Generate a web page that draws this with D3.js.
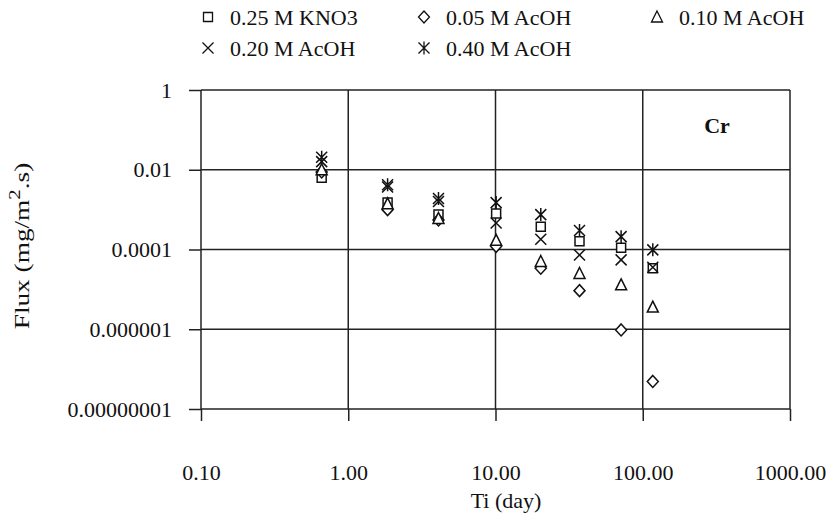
<!DOCTYPE html>
<html>
<head>
<meta charset="utf-8">
<script src="https://cdn.jsdelivr.net/npm/d3@7"></script>
<style>
  html, body { margin: 0; padding: 0; background: #fff; }
  svg { display: block; }
  text { font-family: "Liberation Serif", "Times New Roman", serif; fill: #111; }
</style>
</head>
<body>
<svg id="chart" width="838" height="524"></svg>
<script>
// Leaching time (days) for each sampling step
const days = [0.66, 1.85, 4.1, 10.1, 20.3, 37.2, 71.3, 117];

// Cr flux (mg/m2.s) per leachant
const kno3_025 = [0.0063, 0.0015, 0.00075, 0.0008, 0.00037, 0.00016, 0.00011, 0.000034];
const acoh_005 = [0.0088, 0.001, 0.00055, 0.00012, 0.000034, 0.0000093, 0.00000096, 0.000000049];
const acoh_010 = [0.01, 0.0014, 0.0006, 0.00017, 0.00005, 0.000025, 0.000013, 0.0000036];
const acoh_020 = [0.016, 0.0037, 0.0016, 0.00046, 0.00018, 0.000073, 0.000055, 0.000036];
const acoh_040 = [0.0205, 0.0042, 0.0019, 0.0015, 0.00075, 0.0003, 0.00021, 0.000098];

const seriesNames = ["0.25 M KNO3", "0.05 M AcOH", "0.10 M AcOH", "0.20 M AcOH", "0.40 M AcOH"];
const seriesMarkers = ["square", "diamond", "triangle", "cross", "star"];

const xTicks = [0.1, 1, 10, 100, 1000];
const xTickLabels = ["0.10", "1.00", "10.00", "100.00", "1000.00"];
const yTicks = [1, 0.01, 0.0001, 0.000001, 0.00000001];
const yTickLabels = ["1", "0.01", "0.0001", "0.000001", "0.00000001"];

const series = [kno3_025, acoh_005, acoh_010, acoh_020, acoh_040].map((vals, i) => ({
  name: seriesNames[i],
  marker: seriesMarkers[i],
  points: vals.map((v, j) => ({ x: days[j], y: v }))
}));

const svg = d3.select("#chart");
const plot = { left: 201, right: 790, top: 90, bottom: 409 };
const fontSize = 22;

const x = d3.scaleLog().domain([0.1, 1000]).range([plot.left, plot.right]);
const y = d3.scaleLog().domain([1e-8, 1]).range([plot.bottom, plot.top]);

// Marker outlines, centred on the origin
function markerPath(type) {
  const p = d3.path();
  if (type === "square") {
    p.rect(-4.5, -4.5, 9, 9);
  } else if (type === "diamond") {
    p.moveTo(0, -6); p.lineTo(5.5, 0); p.lineTo(0, 6); p.lineTo(-5.5, 0); p.closePath();
  } else if (type === "triangle") {
    p.moveTo(0, -6); p.lineTo(5.5, 5); p.lineTo(-5.5, 5); p.closePath();
  } else if (type === "cross") {
    p.moveTo(-5.5, -5.5); p.lineTo(5.5, 5.5); p.moveTo(-5.5, 5.5); p.lineTo(5.5, -5.5);
  } else if (type === "star") {
    p.moveTo(-5.5, -5.5); p.lineTo(5.5, 5.5); p.moveTo(-5.5, 5.5); p.lineTo(5.5, -5.5);
    p.moveTo(0, -6.5); p.lineTo(0, 6.5);
  }
  return p.toString();
}

// Grid lines (also form the plot frame)
const grid = svg.append("g").attr("stroke", "#222").attr("stroke-width", 1.5).attr("fill", "none");
grid.selectAll("line.h").data(yTicks).join("line")
  .attr("x1", plot.left).attr("x2", plot.right)
  .attr("y1", d => y(d)).attr("y2", d => y(d));
grid.selectAll("line.v").data(xTicks).join("line")
  .attr("y1", plot.top).attr("y2", plot.bottom)
  .attr("x1", d => x(d)).attr("x2", d => x(d));

// Y axis: ticks outward to the left, labels right aligned
const yAxis = d3.axisLeft(y).tickValues(yTicks)
  .tickFormat((d, i) => yTickLabels[i]).tickSize(12).tickPadding(17);
const gy = svg.append("g").attr("transform", `translate(${plot.left},0)`).call(yAxis);
gy.select(".domain").remove();
gy.selectAll(".tick line").attr("stroke", "#222").attr("stroke-width", 1.5);
gy.selectAll(".tick text").attr("font-size", fontSize).attr("font-family", "Liberation Serif").attr("fill", "#111");

// X axis: ticks hang below the bottom line, labels set well below
const xAxis = d3.axisBottom(x).tickValues(xTicks)
  .tickFormat((d, i) => xTickLabels[i]).tickSize(12).tickPadding(43);
const gx = svg.append("g").attr("transform", `translate(0,${plot.bottom})`).call(xAxis);
gx.select(".domain").remove();
gx.selectAll(".tick line").attr("stroke", "#222").attr("stroke-width", 1.5);
gx.selectAll(".tick text").attr("font-size", fontSize).attr("font-family", "Liberation Serif").attr("fill", "#111");

// Axis titles
svg.append("text")
  .attr("x", 506).attr("y", 508)
  .attr("text-anchor", "middle").attr("font-size", fontSize)
  .text("Ti (day)");

// Y title, slightly elongated along its reading direction
const yTitle = svg.append("text")
  .attr("transform", "translate(29,246) rotate(-90) scale(1.3,1)")
  .attr("text-anchor", "middle").attr("font-size", 21);
yTitle.append("tspan").text("Flux (mg/m");
yTitle.append("tspan").attr("dy", -9).attr("font-size", 16).text("2");
yTitle.append("tspan").attr("dy", 9).text(".s)");

// Element label
svg.append("text")
  .attr("x", 717).attr("y", 133)
  .attr("text-anchor", "middle").attr("font-size", 22).attr("font-weight", "bold")
  .text("Cr");

// Data points
const marks = svg.append("g").attr("fill", "none").attr("stroke", "#111").attr("stroke-width", 1.5);
series.forEach(s => {
  marks.append("g").selectAll("path").data(s.points).join("path")
    .attr("d", markerPath(s.marker))
    .attr("fill", s.marker === "cross" || s.marker === "star" ? "none" : "#fff")
    .attr("transform", d => `translate(${x(d.x)},${y(d.y)})`);
});

// Legend: two rows, three columns spanning the plot width
const legendPos = [
  { mx: 208, ty: 19 }, { mx: 424, ty: 19 }, { mx: 657, ty: 19 },
  { mx: 208, ty: 50 }, { mx: 424, ty: 50 }
];
const legend = svg.append("g");
series.forEach((s, i) => {
  const pos = legendPos[i];
  legend.append("path")
    .attr("d", markerPath(s.marker))
    .attr("transform", `translate(${pos.mx},${pos.ty - 2})`)
    .attr("fill", "none").attr("stroke", "#111").attr("stroke-width", 1.3);
  legend.append("text")
    .attr("x", pos.mx + 22).attr("y", pos.ty + 6)
    .attr("font-size", fontSize)
    .text(s.name);
});
</script>
</body>
</html>
